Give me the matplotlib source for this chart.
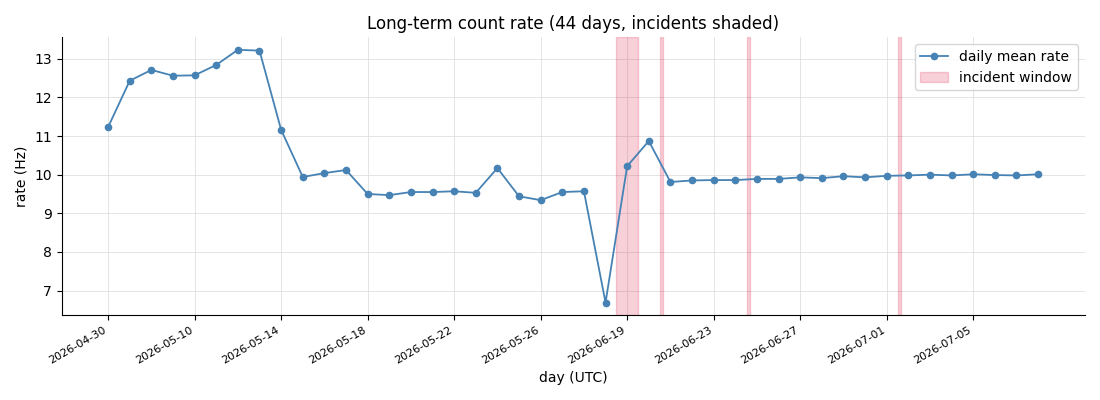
import matplotlib
matplotlib.use("Agg")
import matplotlib.pyplot as plt

tick_labels = ["2026-04-30", "2026-05-10", "2026-05-14", "2026-05-18", "2026-05-22",
               "2026-05-26", "2026-06-19", "2026-06-23", "2026-06-27", "2026-07-01",
               "2026-07-05"]
tick_index = [0, 4, 8, 12, 16, 20, 24, 28, 32, 36, 40]

rate = [11.23, 12.43, 12.71, 12.56, 12.57, 12.84, 13.23, 13.21, 11.16, 9.94,
        10.04, 10.12, 9.50, 9.47, 9.55, 9.55, 9.57, 9.53, 10.17, 9.44,
        9.34, 9.55, 9.57, 6.69, 10.22, 10.87, 9.81, 9.85, 9.86, 9.86,
        9.89, 9.89, 9.93, 9.91, 9.96, 9.93, 9.97, 9.98, 10.00, 9.98,
        10.01, 9.99, 9.98, 10.01]

incident_start = [23.5, 25.5, 29.52, 36.52]
incident_end = [24.5, 25.65, 29.67, 36.67]

fig, ax = plt.subplots(figsize=(11, 4), dpi=100)
x = list(range(len(rate)))
ax.plot(x, rate, color="steelblue", marker="o", markersize=4.5, linewidth=1.3,
        label="daily mean rate", zorder=3)
for i, (s, e) in enumerate(zip(incident_start, incident_end)):
    ax.axvspan(s, e, color="crimson", alpha=0.2,
               label="incident window" if i == 0 else None, zorder=1)

ax.set_xticks(tick_index)
ax.set_xticklabels(tick_labels, rotation=30, ha="right", fontsize=8)
ax.grid(True, color="#dddddd", linewidth=0.7, alpha=0.8)
ax.set_axisbelow(True)
ax.spines["top"].set_visible(False)
ax.spines["right"].set_visible(False)
ax.set_title("Long-term count rate (44 days, incidents shaded)", fontsize=12)
ax.set_xlabel("day (UTC)")
ax.set_ylabel("rate (Hz)")
ax.legend(loc="upper right")
fig.subplots_adjust(left=0.056, right=0.986, top=0.907, bottom=0.212)
fig.savefig("out.png")
